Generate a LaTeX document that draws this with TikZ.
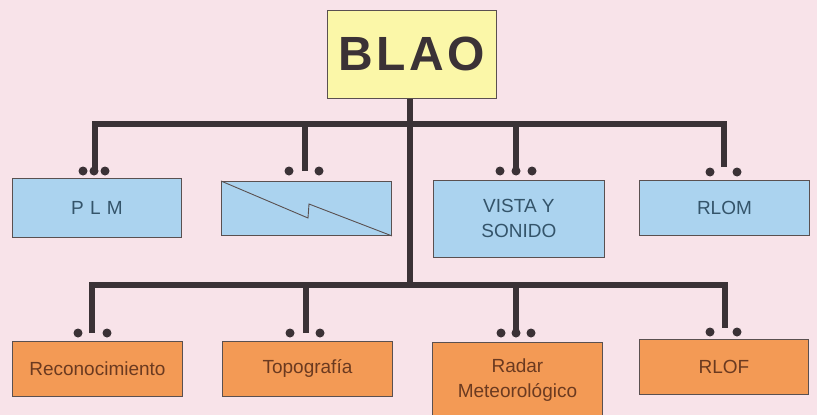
\documentclass[tikz,border=0pt]{standalone}
\usepackage{fontspec}
\setmainfont{Liberation Sans}
\definecolor{bg}{HTML}{F8E3E9}
\definecolor{bluefill}{HTML}{ABD3EF}
\definecolor{orangefill}{HTML}{F39A55}
\definecolor{yellowfill}{HTML}{FBF7A8}
\definecolor{linecol}{HTML}{3B3236}
\definecolor{bluetext}{HTML}{34546A}
\definecolor{orangetext}{HTML}{6B3A20}
\definecolor{edge}{HTML}{5A5050}
\tikzset{
  box/.style={draw=edge, line width=0.9pt, anchor=north west, inner sep=0pt, align=center,
    font=\fontsize{19}{25}\selectfont},
  bluebox/.style={box, fill=bluefill, text=bluetext},
  orangebox/.style={box, fill=orangefill, text=orangetext},
  bus/.style={draw=linecol, line width=6.5pt, line join=miter},
  dotnode/.style={circle, fill=linecol, inner sep=0pt, minimum size=9pt}
}
\begin{document}
\begin{tikzpicture}[x=1pt,y=-1pt]
\useasboundingbox (0,0) rectangle (817,415);
\fill[bg] (0,0) rectangle (817,415);

% top node
\node[box, fill=yellowfill, text=linecol, minimum width=169pt, minimum height=88pt,
  font=\fontsize{48}{50}\selectfont\bfseries\addfontfeature{LetterSpace=7}] (blao) at (327,10) {BLAO};

% upper row boxes
\node[bluebox, minimum width=169pt, minimum height=59pt] (plm) at (12,178) {P\,\,L\,\,M};
\node[bluebox, minimum width=170pt, minimum height=54pt] (zig) at (221,181) {};
\node[bluebox, minimum width=171pt, minimum height=77pt] (vista) at (433,180) {VISTA Y\\SONIDO};
\node[bluebox, minimum width=170pt, minimum height=55pt] (rlom) at (639,180) {RLOM};

% lower row boxes
\node[orangebox, minimum width=170pt, minimum height=55pt] (recon) at (12,341) {Reconocimiento};
\node[orangebox, minimum width=170pt, minimum height=55pt] (topo) at (222,341) {Topografía};
\node[orangebox, minimum width=170pt, minimum height=75pt] (radar) at (432,342) {Radar\\Meteorológico};
\node[orangebox, minimum width=169pt, minimum height=55pt] (rlof) at (639,339) {RLOF};

% zigzag inside second box
\coordinate (z1) at (308,218);
\coordinate (z2) at (309,204);
\draw[draw=edge, line width=0.9pt] (zig.north west) -- (z1) -- (z2) -- (zig.south east);

% ports (where connectors end)
\coordinate (p1) at (95,171);
\coordinate (p2) at (305,171);
\coordinate (p3) at (516,171);
\coordinate (p4) at (724,167);
\coordinate (q1) at (92,333);
\coordinate (q2) at (306,333);
\coordinate (q3) at (516,333);
\coordinate (q4) at (725,328);
\coordinate (tR) at (724,124);
\coordinate (bR) at (725,285);
\coordinate (trunkEnd) at (410,285);

% trunk
\draw[bus] (blao.south -| trunkEnd) -- (trunkEnd);
% top bus
\draw[bus] (p1) |- (tR) -- (p4);
\draw[bus] (p2) -- (p2 |- tR);
\draw[bus] (p3) -- (p3 |- tR);
% bottom bus
\draw[bus] (q1) |- (bR) -- (q4);
\draw[bus] (q2) -- (q2 |- bR);
\draw[bus] (q3) -- (q3 |- bR);

% dots upper
\node[dotnode] (d11) at (83,171) {};
\node[dotnode] (d12) at (94,171) {};
\node[dotnode] (d13) at (105,171) {};
\node[dotnode] (d21) at (289,171) {};
\node[dotnode] (d23) at (319,171) {};
\node[dotnode] (d31) at (500,171) {};
\node[dotnode] (d32) at (516,171) {};
\node[dotnode] (d33) at (532,171) {};
\node[dotnode] (d41) at (710,172) {};
\node[dotnode] (d43) at (737,172) {};
% dots lower
\node[dotnode] (e11) at (78,333) {};
\node[dotnode] (e13) at (107,333) {};
\node[dotnode] (e21) at (290,333) {};
\node[dotnode] (e23) at (320,333) {};
\node[dotnode] (e31) at (501,333) {};
\node[dotnode] (e32) at (516,333) {};
\node[dotnode] (e33) at (531,333) {};
\node[dotnode] (e41) at (710,332) {};
\node[dotnode] (e43) at (737,332) {};
\end{tikzpicture}
\end{document}
